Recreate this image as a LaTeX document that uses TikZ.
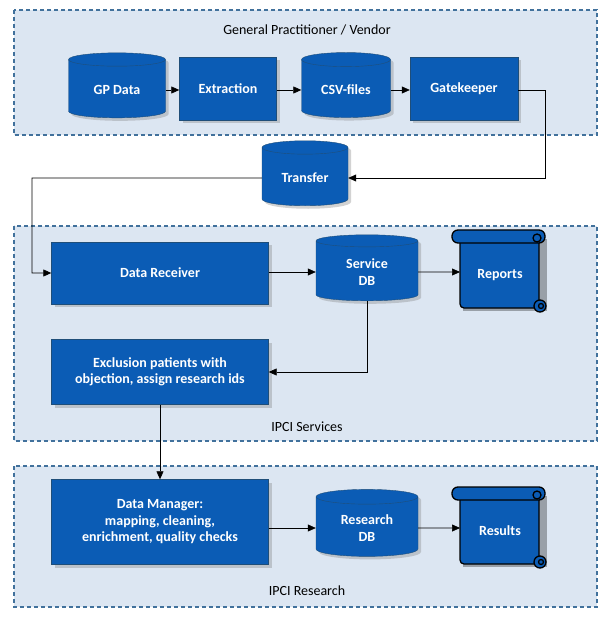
\documentclass[tikz,border=0pt]{standalone}
\usepackage{fontspec}
\setmainfont{Carlito}
\usetikzlibrary{shapes.geometric,shadows,arrows.meta}
\definecolor{panel}{HTML}{DCE6F2}
\definecolor{pborder}{HTML}{41719C}
\definecolor{boxfill}{HTML}{0B5CB5}
\definecolor{boxline}{HTML}{1F4E79}
\tikzset{
 panelbox/.style={draw=pborder,line width=1.2pt,fill=panel,dash pattern=on 4pt off 3pt},
 procbox/.style={draw=boxline,fill=boxfill,text=white,align=center,font=\fontsize{14}{16.5}\selectfont\bfseries,drop shadow={shadow xshift=3pt,shadow yshift=-3pt,opacity=0.35}},
 dbcyl/.style={cylinder,shape border rotate=90,aspect=0.25,draw=boxline,fill=boxfill,text=white,align=center,font=\fontsize{14}{16.5}\selectfont\bfseries,drop shadow={shadow xshift=3pt,shadow yshift=-3pt,opacity=0.35}},
 conn/.style={-{Triangle[length=8pt,width=7pt]},line width=0.6pt},
 lbl/.style={font=\fontsize{14}{16}\selectfont},
 scrolltxt/.style={text=white,font=\fontsize{14}{16}\selectfont\bfseries}
}
\newcommand{\myscroll}[4]{%
 \fill[black,opacity=0.3] (#1+11,#2+9) rectangle (#3+2,#4-3);
 \filldraw[fill=boxfill,draw=black,line width=1.3pt,rounded corners=4pt] (#1+8,#2+6) -- (#1+8,#4-6) -- (#3-6,#4-6) -- (#3-6,#2+6);
 \filldraw[fill=boxfill,draw=black,line width=1.3pt,rounded corners=6pt] (#1,#2) rectangle (#3,#2+13);
 \draw[black,line width=1.3pt] (#3-8,#2+8) circle (4);
 \filldraw[fill=boxfill,draw=black,line width=1.3pt] (#3-5,#4-8) circle (6);
 \draw[black,line width=1.3pt] (#3-4,#4-8) circle (2.5);
}
\begin{document}
\begin{tikzpicture}[x=1pt,y=-1pt]
\useasboundingbox (0,0) rectangle (611,617);
\fill[white] (0,0) rectangle (611,617);
\draw[panelbox] (14,10) rectangle (597,135);
\draw[panelbox] (14,226) rectangle (597,441);
\draw[panelbox] (14,466) rectangle (597,607);
\node[lbl] (t1) at (307,30) {General Practitioner / Vendor};
\node[lbl] (t2) at (307,427) {IPCI Services};
\node[lbl] (t3) at (307,591) {IPCI Research};

\node[dbcyl,minimum width=97pt,minimum height=65pt] (gp) at (117,90) {GP Data};
\node[procbox,minimum width=97pt,minimum height=63pt] (ex) at (228,89) {Extraction};
\node[dbcyl,minimum width=89pt,minimum height=65pt] (csv) at (346,90) {CSV-files};
\node[procbox,minimum width=108pt,minimum height=63pt] (gk) at (464,89) {Gatekeeper};
\node[dbcyl,minimum width=86pt,minimum height=65pt] (tr) at (305,178) {Transfer};
\node[procbox,minimum width=217pt,minimum height=62pt] (dr) at (160,273) {Data Receiver};
\node[dbcyl,minimum width=102pt,minimum height=66pt] (sdb) at (367,272) {Service\\DB};
\node[procbox,minimum width=217pt,minimum height=65pt] (exc) at (160,372) {Exclusion patients with\\objection, assign research ids};
\node[procbox,minimum width=217pt,minimum height=85pt] (dm) at (160,522) {Data Manager:\\mapping, cleaning,\\enrichment, quality checks};
\node[dbcyl,minimum width=102pt,minimum height=67pt] (rdb) at (367,528) {Research\\DB};

\myscroll{452}{230}{545}{314}
\node[scrolltxt] (rep) at (500,275) {Reports};
\myscroll{452}{487}{545}{570}
\node[scrolltxt] (res) at (500,531) {Results};

\draw[conn] (gp.east) -- (gp.east -| ex.west);
\draw[conn] (ex.east |- csv.west) -- (csv.west);
\draw[conn] (csv.east) -- (csv.east -| gk.west);
\draw[conn] (gk.east |- csv.east) -- ++(27,0) |- (tr.east);
\draw[conn] (tr.west) -- (32,178) |- (dr.west);
\draw[conn] (dr.east |- sdb.west) -- (sdb.west);
\draw[conn] (sdb.east) -- (460,272);
\draw[conn] (sdb.south) |- (exc.east);
\draw[conn] (exc.south) -- (dm.north);
\draw[conn] (dm.east |- rdb.west) -- (rdb.west);
\draw[conn] (rdb.east) -- (460,528);
\end{tikzpicture}
\end{document}
